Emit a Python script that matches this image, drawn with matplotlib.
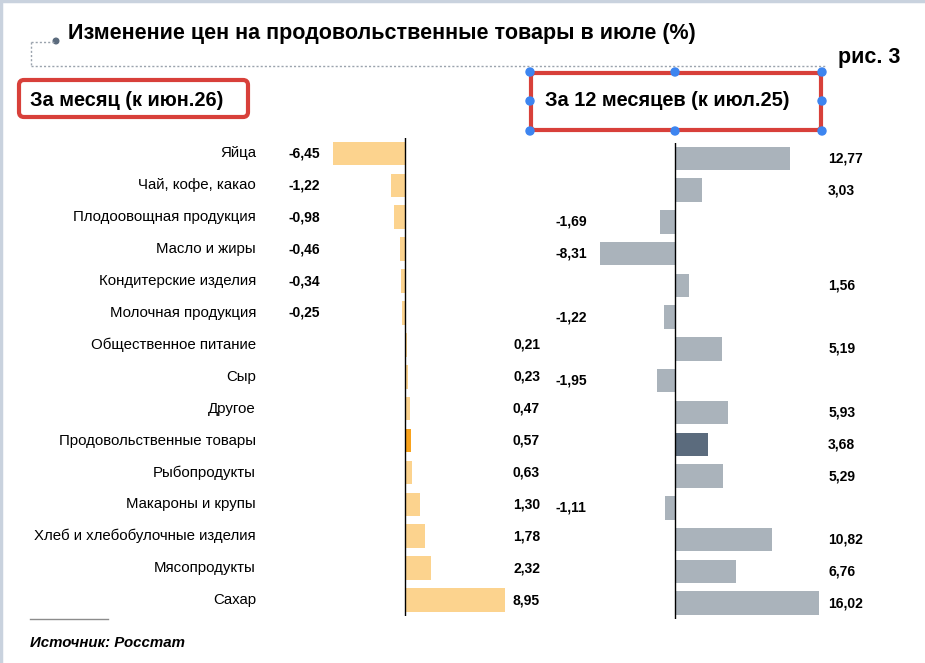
import matplotlib
matplotlib.use("Agg")
import matplotlib.pyplot as plt
from matplotlib.patches import FancyBboxPatch, Circle
import numpy as np

plt.rcParams['font.family'] = ['Liberation Sans', 'DejaVu Sans']

# data
categories = ["Яйца", "Чай, кофе, какао", "Плодоовощная продукция", "Масло и жиры",
              "Кондитерские изделия", "Молочная продукция", "Общественное питание",
              "Сыр", "Другое", "Продовольственные товары", "Рыбопродукты",
              "Макароны и крупы", "Хлеб и хлебобулочные изделия", "Мясопродукты", "Сахар"]
month_vals = [-6.45, -1.22, -0.98, -0.46, -0.34, -0.25, 0.21, 0.23, 0.47, 0.57,
              0.63, 1.30, 1.78, 2.32, 8.95]
year_vals = [12.77, 3.03, -1.69, -8.31, 1.56, -1.22, 5.19, -1.95, 5.93, 3.68,
             5.29, -1.11, 10.82, 6.76, 16.02]
highlight = "Продовольственные товары"

title = "Изменение цен на продовольственные товары в июле (%)"
left_header = "За месяц (к июн.26)"
right_header = "За 12 месяцев (к июл.25)"
fig_label = "рис. 3"
source = "Источник: Росстат"

W, H = 925, 663


def px_box(x0, y0, x1, y1):
    # pixel box (top-left origin) -> figure fraction rect
    return [x0 / W, 1 - y1 / H, (x1 - x0) / W, (y1 - y0) / H]


def fmt(v):
    return f"{v:.2f}".replace(".", ",")


fig = plt.figure(figsize=(W / 100, H / 100), dpi=100)

# overlay for decorations, 1 unit = 1 px
ov = fig.add_axes([0, 0, 1, 1])
ov.set_xlim(0, W)
ov.set_ylim(H, 0)
ov.axis("off")
ov.patch.set_alpha(0)

n = len(categories)
y = np.arange(n)

# left panel - month
axl = fig.add_axes(px_box(280, 137.5, 560, 616))
x_axis_l = 405
scale_l = 11.2
axl.set_xlim((280 - x_axis_l) / scale_l, (560 - x_axis_l) / scale_l)
axl.set_ylim(n - 0.5, -0.5)
cols_l = ["#F9A21B" if c == highlight else "#FCD38E" for c in categories]
axl.barh(y, month_vals, height=0.74, color=cols_l)
axl.axvline(0, color="black", lw=1)
axl.axis("off")
for i, (c, v) in enumerate(zip(categories, month_vals)):
    axl.text(-0.086, i, c, transform=axl.get_yaxis_transform(), ha="right",
             va="center", fontsize=10.8, clip_on=False)
    if v < 0:
        axl.text(0.032, i, fmt(v), transform=axl.get_yaxis_transform(), ha="left",
                 va="center", fontsize=10, fontweight="bold")
    else:
        axl.text(0.929, i, fmt(v), transform=axl.get_yaxis_transform(), ha="right",
                 va="center", fontsize=10, fontweight="bold")

# right panel - 12 months
axr = fig.add_axes(px_box(545, 142.6, 870, 618.9))
x_axis_r = 675
scale_r = 9.0
axr.set_xlim((545 - x_axis_r) / scale_r, (870 - x_axis_r) / scale_r)
axr.set_ylim(n - 0.5, -0.5)
cols_r = ["#5B6B7D" if c == highlight else "#AAB3BB" for c in categories]
axr.barh(y, year_vals, height=0.74, color=cols_r)
axr.axvline(0, color="black", lw=1)
axr.axis("off")
for i, v in enumerate(year_vals):
    if v < 0:
        axr.text(0.031, i, fmt(v), transform=axr.get_yaxis_transform(), ha="left",
                 va="center", fontsize=10, fontweight="bold")
    else:
        axr.text(0.871, i, fmt(v), transform=axr.get_yaxis_transform(), ha="left",
                 va="center", fontsize=10, fontweight="bold")

# border at top and left
ov.plot([1, 1], [0, H], color="#C9D2DE", lw=2.5, clip_on=False)
ov.plot([0, W], [1, 1], color="#C9D2DE", lw=2.5, clip_on=False)

# title and dotted connector
ov.text(68, 33, title, fontsize=15.5, fontweight="bold", va="center", ha="left")
ov.plot([31, 56], [42, 42], color="#9AA3AD", lw=1, ls=(0, (1.5, 1.5)))
ov.plot([31, 31], [42, 66], color="#9AA3AD", lw=1, ls=(0, (1.5, 1.5)))
ov.plot([31, 826], [66, 66], color="#9AA3AD", lw=1, ls=(0, (1.5, 1.5)))
ov.add_patch(Circle((56, 41), 2.8, color="#5B6B7D"))
ov.text(838, 58, fig_label, fontsize=15.5, fontweight="bold", va="center", ha="left")

# header boxes
ov.add_patch(FancyBboxPatch((19, 80), 229, 37, boxstyle="round,pad=0,rounding_size=5",
                            fc="none", ec="#D8403A", lw=3))
ov.text(30, 100, left_header, fontsize=14.4, fontweight="bold", va="center", ha="left")
ov.add_patch(FancyBboxPatch((531, 73), 290, 57, boxstyle="round,pad=0,rounding_size=4",
                            fc="none", ec="#D8403A", lw=3))
ov.text(545, 101, right_header, fontsize=14.4, fontweight="bold", va="center", ha="left")
for hx, hy in [(530, 72), (675, 72), (822, 72), (530, 101), (822, 101),
               (530, 131), (675, 131), (822, 131)]:
    ov.add_patch(Circle((hx, hy), 4, color="#3D85F0", zorder=5))

# source
ov.plot([30, 108], [619, 619], color="#8C8C8C", lw=1)
ov.text(30, 643, source, fontsize=10.8, fontweight="bold", style="italic",
        va="center", ha="left")

fig.savefig("out.png", dpi=100, facecolor="white")
